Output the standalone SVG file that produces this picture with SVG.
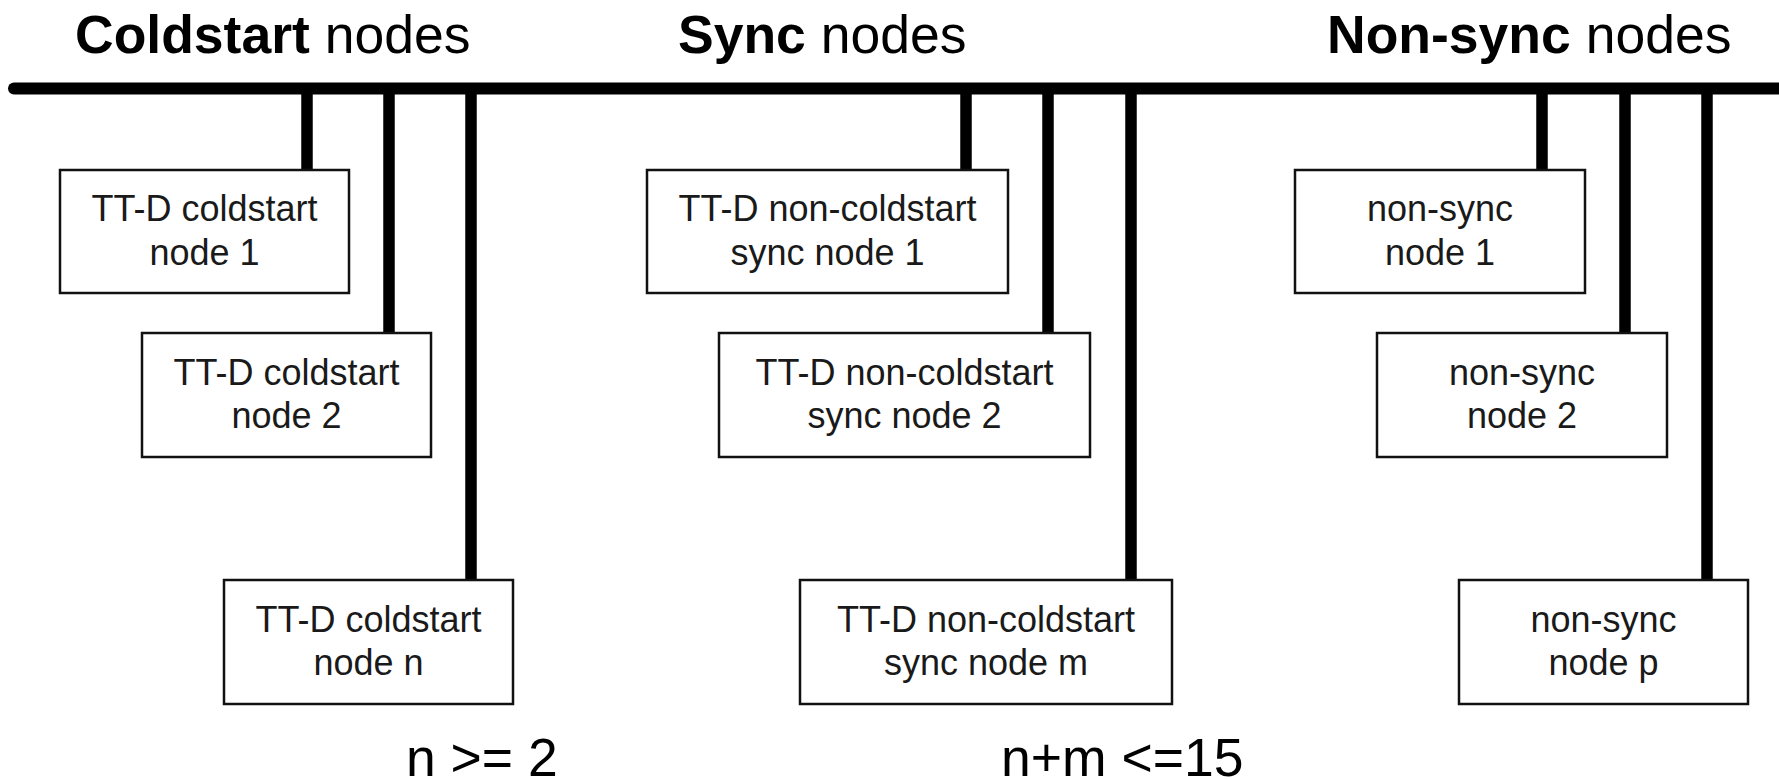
<svg xmlns="http://www.w3.org/2000/svg" width="1779" height="780" viewBox="0 0 1779 780">
<style>
.bus{stroke:#000;stroke-width:12;stroke-linecap:round;fill:none}
.drop{stroke:#000;stroke-width:11.5;stroke-linecap:round;fill:none}
.box{fill:#fff;stroke:#111;stroke-width:2.5}
.lbl{font-family:"Liberation Sans",Arial,sans-serif;font-size:36px;fill:#1a1a1a;text-anchor:middle}
.title{font-family:"Liberation Sans",Arial,sans-serif;font-size:53.5px;fill:#000}
.b{font-weight:bold}
</style>
<rect width="1779" height="780" fill="#fff"/>
<g id="titles">
<text class="title" x="75" y="53"><tspan class="b">Coldstart</tspan> nodes</text>
<text class="title" x="678" y="53"><tspan class="b">Sync</tspan> nodes</text>
<text class="title" x="1327" y="53"><tspan class="b">Non-sync</tspan> nodes</text>
<text class="title" x="406" y="776">n &gt;= 2</text>
<text class="title" x="1001" y="776">n+m &lt;=15</text>
</g>
<g id="connectors">
<line class="bus" x1="14" y1="88.5" x2="1790" y2="88.5"/>
<line class="drop" x1="307" y1="90" x2="307" y2="171"/>
<line class="drop" x1="389" y1="90" x2="389" y2="334"/>
<line class="drop" x1="471" y1="90" x2="471" y2="581"/>
<line class="drop" x1="966" y1="90" x2="966" y2="171"/>
<line class="drop" x1="1048" y1="90" x2="1048" y2="334"/>
<line class="drop" x1="1131" y1="90" x2="1131" y2="581"/>
<line class="drop" x1="1542" y1="90" x2="1542" y2="171"/>
<line class="drop" x1="1625" y1="90" x2="1625" y2="334"/>
<line class="drop" x1="1707" y1="90" x2="1707" y2="581"/>
</g>
<g id="coldstart1"><rect class="box" x="60" y="170" width="289" height="123"/><text class="lbl" x="204.5" y="221">TT-D coldstart</text><text class="lbl" x="204.5" y="265">node 1</text></g>
<g id="coldstart2"><rect class="box" x="142" y="333" width="289" height="124"/><text class="lbl" x="286.5" y="385">TT-D coldstart</text><text class="lbl" x="286.5" y="428">node 2</text></g>
<g id="coldstartn"><rect class="box" x="224" y="580" width="289" height="124"/><text class="lbl" x="368.5" y="632">TT-D coldstart</text><text class="lbl" x="368.5" y="675">node n</text></g>
<g id="sync1"><rect class="box" x="647" y="170" width="361" height="123"/><text class="lbl" x="827.5" y="221">TT-D non-coldstart</text><text class="lbl" x="827.5" y="265">sync node 1</text></g>
<g id="sync2"><rect class="box" x="719" y="333" width="371" height="124"/><text class="lbl" x="904.5" y="385">TT-D non-coldstart</text><text class="lbl" x="904.5" y="428">sync node 2</text></g>
<g id="syncm"><rect class="box" x="800" y="580" width="372" height="124"/><text class="lbl" x="986" y="632">TT-D non-coldstart</text><text class="lbl" x="986" y="675">sync node m</text></g>
<g id="nonsync1"><rect class="box" x="1295" y="170" width="290" height="123"/><text class="lbl" x="1440" y="221">non-sync</text><text class="lbl" x="1440" y="265">node 1</text></g>
<g id="nonsync2"><rect class="box" x="1377" y="333" width="290" height="124"/><text class="lbl" x="1522" y="385">non-sync</text><text class="lbl" x="1522" y="428">node 2</text></g>
<g id="nonsyncp"><rect class="box" x="1459" y="580" width="289" height="124"/><text class="lbl" x="1603.5" y="632">non-sync</text><text class="lbl" x="1603.5" y="675">node p</text></g>
</svg>
